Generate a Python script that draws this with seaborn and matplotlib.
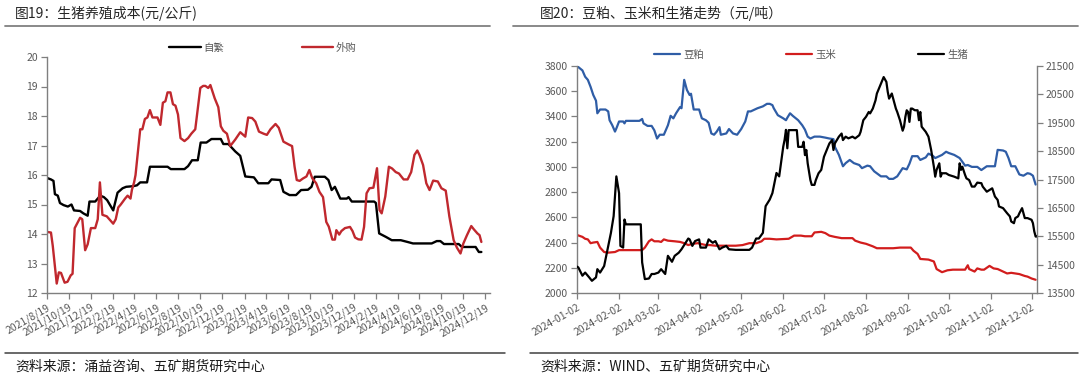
import matplotlib
matplotlib.use("Agg")
import matplotlib.pyplot as plt
from matplotlib.lines import Line2D
import seaborn as sns
import pandas as pd

# ---------------- Left chart: 生猪养殖成本 (元/公斤) ----------------
zifan_dates = ["2021-08-19", "2021-08-30", "2021-09-06", "2021-09-10", "2021-09-18", "2021-09-24",
               "2021-10-04", "2021-10-16", "2021-10-26", "2021-11-02", "2021-11-19", "2021-11-28",
               "2021-12-10", "2021-12-15", "2021-12-31", "2022-01-14", "2022-01-24", "2022-02-02",
               "2022-02-19", "2022-03-03", "2022-03-17", "2022-03-27", "2022-04-15", "2022-04-26",
               "2022-05-05", "2022-05-24", "2022-06-01", "2022-07-20", "2022-07-29", "2022-09-05",
               "2022-09-15", "2022-09-26", "2022-10-12", "2022-10-20", "2022-11-05", "2022-11-19",
               "2022-12-15", "2022-12-22", "2023-01-05", "2023-01-24", "2023-02-07", "2023-02-21",
               "2023-03-17", "2023-03-29", "2023-04-26", "2023-05-05", "2023-05-29", "2023-06-07",
               "2023-06-24", "2023-07-12", "2023-07-26", "2023-08-14", "2023-08-24", "2023-09-02",
               "2023-09-30", "2023-10-10", "2023-10-19", "2023-10-28", "2023-11-12", "2023-11-30",
               "2023-12-05", "2023-12-14", "2024-02-14", "2024-02-19", "2024-02-28", "2024-03-18",
               "2024-04-03", "2024-04-28", "2024-05-17", "2024-06-01", "2024-07-23", "2024-08-06",
               "2024-08-16", "2024-08-26", "2024-10-06", "2024-10-15", "2024-11-22", "2024-12-01",
               "2024-12-08"]
zifan_values = [15.9, 15.85, 15.8, 15.35, 15.3, 15.05, 14.98, 14.93, 15.0, 14.8, 14.78, 14.7,
                14.62, 15.1, 15.1, 15.3, 15.25, 15.15, 14.8, 15.4, 15.55, 15.6, 15.62, 15.65,
                15.75, 15.75, 16.28, 16.28, 16.2, 16.2, 16.3, 16.5, 16.5, 17.1, 17.1, 17.22,
                17.22, 17.05, 17.05, 16.8, 16.65, 15.95, 15.92, 15.72, 15.72, 15.85, 15.83, 15.43,
                15.32, 15.32, 15.49, 15.5, 15.6, 15.94, 15.94, 15.83, 15.49, 15.6, 15.2, 15.2,
                15.25, 15.1, 15.1, 15.05, 14.02, 13.9, 13.79, 13.79, 13.73, 13.68, 13.68, 13.76,
                13.76, 13.66, 13.66, 13.56, 13.56, 13.39, 13.39]

waigou_dates = ["2021-08-19", "2021-08-30", "2021-09-04", "2021-09-15", "2021-09-21", "2021-09-27",
                "2021-10-07", "2021-10-15", "2021-10-24", "2021-10-29", "2021-11-04", "2021-11-19",
                "2021-11-25", "2021-12-03", "2021-12-10", "2021-12-19", "2021-12-31", "2022-01-07",
                "2022-01-13", "2022-01-20", "2022-02-01", "2022-02-12", "2022-02-19", "2022-02-26",
                "2022-03-05", "2022-03-12", "2022-03-24", "2022-03-31", "2022-04-08", "2022-04-12",
                "2022-04-18", "2022-04-22", "2022-05-05", "2022-05-11", "2022-05-18", "2022-05-25",
                "2022-06-01", "2022-06-08", "2022-06-22", "2022-06-30", "2022-07-07", "2022-07-14",
                "2022-07-20", "2022-07-28", "2022-08-04", "2022-08-11", "2022-08-18", "2022-08-25",
                "2022-09-05", "2022-09-15", "2022-09-24", "2022-10-05", "2022-10-19", "2022-10-27",
                "2022-11-02", "2022-11-10", "2022-11-16", "2022-11-28", "2022-12-08", "2022-12-15",
                "2022-12-22", "2023-01-01", "2023-01-10", "2023-01-24", "2023-02-07", "2023-02-21",
                "2023-03-01", "2023-03-12", "2023-03-21", "2023-03-31", "2023-04-13", "2023-04-22",
                "2023-05-02", "2023-05-16", "2023-05-25", "2023-06-07", "2023-06-24", "2023-07-01",
                "2023-07-08", "2023-07-14", "2023-07-22", "2023-07-31", "2023-08-10", "2023-08-18",
                "2023-08-26", "2023-09-06", "2023-09-15", "2023-09-25", "2023-10-04", "2023-10-11",
                "2023-10-21", "2023-10-28", "2023-11-01", "2023-11-09", "2023-11-15", "2023-11-25",
                "2023-12-09", "2023-12-16", "2023-12-23", "2024-01-01", "2024-01-10", "2024-01-17",
                "2024-01-24", "2024-02-01", "2024-02-12", "2024-02-22", "2024-02-29", "2024-03-06",
                "2024-03-16", "2024-03-26", "2024-04-04", "2024-04-14", "2024-04-23", "2024-05-06",
                "2024-05-17", "2024-05-27", "2024-06-05", "2024-06-13", "2024-06-19", "2024-06-29",
                "2024-07-08", "2024-07-17", "2024-07-27", "2024-08-09", "2024-08-19", "2024-08-31",
                "2024-09-10", "2024-09-22", "2024-10-01", "2024-10-11", "2024-10-19", "2024-10-29",
                "2024-11-10", "2024-11-17", "2024-11-27", "2024-12-03", "2024-12-08"]
waigou_values = [14.07, 14.05, 13.6, 12.32, 12.7, 12.68, 12.35, 12.38, 12.6, 12.65, 14.2, 14.55,
                 14.5, 13.45, 13.65, 14.2, 14.2, 14.5, 15.75, 14.65, 14.6, 14.45, 14.35, 14.5,
                 14.9, 15.0, 15.2, 15.3, 15.2, 15.5, 15.75, 16.0, 17.55, 17.55, 17.9, 17.95,
                 18.2, 17.95, 17.95, 17.7, 18.45, 18.5, 18.8, 18.8, 18.4, 18.35, 18.05, 17.25,
                 17.15, 17.25, 17.4, 17.55, 18.95, 19.02, 19.02, 18.95, 19.05, 18.6, 18.3, 17.65,
                 17.5, 17.4, 16.98, 17.2, 17.45, 17.3, 17.95, 17.93, 17.81, 17.47, 17.4, 17.36,
                 17.55, 17.73, 17.6, 17.13, 17.02, 16.98, 16.28, 15.83, 15.8, 15.88, 15.95, 16.17,
                 15.89, 15.72, 15.43, 15.25, 14.41, 14.25, 13.81, 13.81, 14.13, 13.98, 14.1, 14.2,
                 14.24, 14.1, 13.88, 13.82, 13.81, 14.24, 15.38, 15.55, 15.57, 16.23, 14.81, 14.7,
                 15.27, 16.28, 16.22, 16.1, 16.05, 15.85, 15.85, 16.1, 16.68, 16.83, 16.68, 16.34,
                 15.72, 15.49, 15.81, 15.78, 15.55, 15.47, 14.6, 13.79, 13.54, 13.34, 13.68, 13.96,
                 14.27, 14.16, 14.02, 13.96, 13.73]

left_xticklabels = ["2021/8/19", "2021/10/19", "2021/12/19", "2022/2/19", "2022/4/19", "2022/6/19",
                    "2022/8/19", "2022/10/19", "2022/12/19", "2023/2/19", "2023/4/19", "2023/6/19",
                    "2023/8/19", "2023/10/19", "2023/12/19", "2024/2/19", "2024/4/19", "2024/6/19",
                    "2024/8/19", "2024/10/19", "2024/12/19"]
left_yticks = [12, 13, 14, 15, 16, 17, 18, 19, 20]

# ---------------- Right chart: 豆粕、玉米和生猪 (元/吨) ----------------
doupo_dates = ["01-02", "01-06", "01-08", "01-10", "01-12", "01-14", "01-16", "01-17", "01-19", "01-23",
               "01-25", "01-26", "01-28", "01-30", "01-31", "02-02", "02-05", "02-06", "02-07", "02-17",
               "02-19", "02-20", "02-23", "02-26", "02-28", "03-01", "03-03", "03-06", "03-09", "03-11",
               "03-13", "03-15", "03-18", "03-19", "03-21", "03-23", "03-25", "03-26", "03-28", "04-01",
               "04-03", "04-06", "04-08", "04-10", "04-12", "04-14", "04-16", "04-17", "04-21", "04-23",
               "04-26", "04-29", "05-02", "05-05", "05-07", "05-09", "05-11", "05-14", "05-18", "05-21",
               "05-23", "05-25", "05-26", "05-29", "06-02", "06-04", "06-05", "06-07", "06-09", "06-13",
               "06-16", "06-18", "06-20", "06-22", "06-25", "06-29", "07-03", "07-06", "07-09", "07-10",
               "07-13", "07-16", "07-18", "07-21", "07-24", "07-28", "07-30", "08-03", "08-05", "08-08",
               "08-09", "08-13", "08-17", "08-19", "08-22", "08-25", "08-29", "09-01", "09-03", "09-05",
               "09-09", "09-11", "09-15", "09-17", "09-20", "09-22", "09-25", "09-27", "09-30", "10-02",
               "10-06", "10-10", "10-14", "10-16", "10-19", "10-23", "10-26", "10-30", "11-02", "11-05",
               "11-07", "11-11", "11-13", "11-15", "11-17", "11-20", "11-23", "11-26", "11-29", "12-01",
               "12-03", "12-05"]
doupo_values = [3800, 3765, 3715, 3690, 3635, 3570, 3525, 3425, 3455, 3455,
                3440, 3370, 3330, 3280, 3305, 3360, 3360, 3345, 3365, 3365,
                3380, 3345, 3325, 3325, 3290, 3225, 3255, 3255, 3330, 3405,
                3385, 3425, 3475, 3465, 3690, 3610, 3570, 3580, 3455, 3455,
                3385, 3370, 3350, 3265, 3255, 3280, 3315, 3255, 3265, 3300,
                3265, 3255, 3300, 3360, 3440, 3440, 3450, 3465, 3480, 3500,
                3500, 3490, 3465, 3410, 3385, 3370, 3390, 3425, 3405, 3370,
                3330, 3295, 3240, 3225, 3240, 3240, 3232, 3225, 3220, 3160,
                3095, 3005, 3030, 3055, 3030, 3015, 2990, 3010, 3005, 2965,
                2957, 2925, 2925, 2905, 2905, 2925, 2990, 2980, 3025, 3085,
                3085, 3055, 3075, 3105, 3090, 3070, 3085, 3095, 3120, 3110,
                3095, 3070, 3010, 3015, 3000, 3000, 2975, 3005, 3005, 3005,
                3135, 3130, 3120, 3070, 3005, 3005, 2940, 2930, 2950, 2945,
                2930, 2860]

yumi_dates = ["01-02", "01-06", "01-08", "01-10", "01-12", "01-14", "01-17", "01-19", "01-22", "01-25",
              "01-30", "02-02", "02-19", "02-21", "02-24", "02-26", "02-28", "03-02", "03-04", "03-06",
              "03-09", "03-14", "03-18", "03-21", "03-24", "03-27", "03-31", "04-02", "04-06", "04-09",
              "04-13", "04-28", "05-03", "05-08", "05-13", "05-17", "05-19", "05-23", "05-28", "06-06",
              "06-10", "06-15", "06-18", "06-23", "06-25", "06-30", "07-03", "07-06", "07-10", "07-15",
              "07-23", "07-25", "07-29", "08-02", "08-07", "08-10", "08-22", "08-27", "09-04", "09-06",
              "09-09", "09-11", "09-17", "09-21", "09-23", "09-27", "10-01", "10-05", "10-14", "10-16",
              "10-17", "10-21", "10-23", "10-26", "10-28", "11-01", "11-04", "11-07", "11-11", "11-14",
              "11-17", "11-20", "11-23", "11-27", "11-29", "12-02", "12-05"]
yumi_values = [2460, 2445, 2430, 2425, 2395, 2400, 2405, 2360, 2325, 2320,
               2325, 2340, 2340, 2360, 2410, 2425, 2410, 2410, 2405, 2425,
               2415, 2410, 2405, 2395, 2380, 2390, 2395, 2390, 2380, 2380,
               2375, 2375, 2380, 2395, 2395, 2410, 2430, 2430, 2425, 2430,
               2455, 2455, 2450, 2450, 2480, 2485, 2475, 2455, 2445, 2435,
               2435, 2415, 2400, 2390, 2370, 2355, 2355, 2360, 2360, 2335,
               2310, 2270, 2265, 2250, 2190, 2165, 2180, 2185, 2185, 2220,
               2190, 2170, 2195, 2185, 2185, 2215, 2195, 2190, 2170, 2155,
               2160, 2155, 2150, 2135, 2130, 2115, 2105]

shengzhu_dates = ["01-02", "01-03", "01-06", "01-08", "01-11", "01-13", "01-16", "01-17", "01-19", "01-22",
                  "01-24", "01-27", "01-29", "01-31", "02-02", "02-03", "02-05", "02-06", "02-07", "02-18",
                  "02-19", "02-21", "02-24", "02-26", "02-28", "03-02", "03-04", "03-07", "03-09", "03-12",
                  "03-14", "03-17", "03-19", "03-22", "03-24", "03-25", "03-27", "03-29", "04-01", "04-02",
                  "04-06", "04-08", "04-11", "04-13", "04-16", "04-18", "04-21", "04-23", "04-28", "05-03",
                  "05-08", "05-10", "05-13", "05-15", "05-18", "05-20", "05-23", "05-25", "05-28", "05-30",
                  "06-02", "06-03", "06-04", "06-05", "06-06", "06-12", "06-13", "06-16", "06-17", "06-18",
                  "06-19", "06-20", "06-22", "06-23", "06-25", "06-26", "06-28", "06-30", "07-02", "07-04",
                  "07-06", "07-08", "07-09", "07-10", "07-13", "07-15", "07-16", "07-18", "07-20", "07-23",
                  "07-25", "07-28", "07-29", "07-31", "08-02", "08-04", "08-05", "08-07", "08-09", "08-10",
                  "08-12", "08-14", "08-15", "08-17", "08-18", "08-19", "08-21", "08-22", "08-24", "08-25",
                  "08-27", "08-29", "08-30", "08-31", "09-01", "09-02", "09-03", "09-04", "09-05", "09-07",
                  "09-09", "09-10", "09-11", "09-12", "09-15", "09-17", "09-19", "09-21", "09-22", "09-23",
                  "09-25", "09-26", "09-27", "09-30", "10-02", "10-06", "10-09", "10-10", "10-11", "10-12",
                  "10-14", "10-15", "10-17", "10-19", "10-21", "10-23", "10-26", "10-27", "10-30", "11-01",
                  "11-03", "11-05", "11-07", "11-08", "11-11", "11-13", "11-14", "11-16", "11-17", "11-19",
                  "11-20", "11-22", "11-23", "11-25", "11-26", "11-27", "11-29", "12-02", "12-03", "12-04",
                  "12-05", "12-06"]
shengzhu_values = [14430, 14400, 14110, 14220, 14050, 13930, 14050, 14340, 14220, 14450,
                   14920, 15620, 16210, 17610, 17020, 15160, 15100, 16090, 15920, 15920,
                   14580, 13990, 14010, 14170, 14170, 14220, 14340, 14170, 14810, 14600,
                   14810, 14920, 15040, 15270, 15420, 15390, 15160, 15330, 15390, 15100,
                   15100, 15390, 15270, 15330, 15040, 15100, 15160, 15040, 15020, 15020,
                   15020, 15100, 15420, 15420, 15620, 16560, 16790, 17020, 17730, 17610,
                   18660, 18900, 19250, 18600, 19240, 19240, 18650, 18650, 18830, 18360,
                   18540, 18070, 17480, 17310, 17310, 17480, 17720, 17840, 18300, 18540,
                   18770, 18890, 18540, 18770, 19010, 19120, 18890, 19010, 18950, 19010,
                   18950, 19060, 19180, 19590, 19710, 19880, 19830, 20000, 20290, 20530,
                   20760, 21000, 21110, 20940, 20590, 20350, 20530, 20350, 20000, 19880,
                   19590, 19220, 19360, 19710, 19940, 19880, 19530, 20000, 20000, 19940,
                   19940, 19590, 19880, 19360, 19180, 19010, 18540, 17950, 17600, 17840,
                   18070, 17600, 17720, 17720, 17660, 17600, 17540, 18070, 17840, 17950,
                   17660, 17540, 17480, 17250, 17250, 17390, 17370, 17250, 17070, 17130,
                   17190, 16900, 16780, 16550, 16490, 16370, 16310, 16200, 16020, 15960,
                   16140, 16200, 16310, 16490, 16310, 16140, 16140, 16080, 15960, 15670,
                   15490, 15490]

right_xticklabels = ["2024-01-02", "2024-02-02", "2024-03-02", "2024-04-02", "2024-05-02", "2024-06-02",
                     "2024-07-02", "2024-08-02", "2024-09-02", "2024-10-02", "2024-11-02", "2024-12-02"]
right_left_yticks = [2000, 2200, 2400, 2600, 2800, 3000, 3200, 3400, 3600, 3800]
right_right_yticks = [13500, 14500, 15500, 16500, 17500, 18500, 19500, 20500, 21500]

# ---------------- Styling ----------------
sns.set_theme(style="white")
plt.rcParams['font.family'] = ['Noto Sans CJK SC', 'DejaVu Sans']
plt.rcParams['axes.unicode_minus'] = False

W, H = 1080, 377
fig = plt.figure(figsize=(W / 100, H / 100), dpi=100)


def box(l, t, r, b):
    return [l / W, 1 - b / H, (r - l) / W, (b - t) / H]


LBL = '#595959'
AXC = '#7f7f7f'
TICK_FS = 7.5


def style_axis(ax):
    for s in ax.spines.values():
        s.set_color(AXC)
        s.set_linewidth(1.0)
    ax.tick_params(axis='both', which='both', direction='out', length=4, width=0.9,
                   color=AXC, labelcolor=LBL, labelsize=TICK_FS, pad=2.5)


# ---------- Left chart ----------
ax1 = fig.add_axes(box(47, 57, 490, 293))
df_zf = pd.DataFrame({'date': pd.to_datetime(zifan_dates), 'value': zifan_values})
df_wg = pd.DataFrame({'date': pd.to_datetime(waigou_dates), 'value': waigou_values})
sns.lineplot(data=df_zf, x='date', y='value', ax=ax1, color='black', linewidth=1.7, label='自繁')
sns.lineplot(data=df_wg, x='date', y='value', ax=ax1, color='#c0282e', linewidth=1.7, label='外购')
ax1.set_xlim(pd.Timestamp('2021-08-19'), pd.Timestamp('2025-01-01'))
ax1.set_ylim(12, 20)
ax1.set_yticks(left_yticks)
ax1.set_xticks(pd.to_datetime(left_xticklabels, format='%Y/%m/%d'))
ax1.set_xticklabels(left_xticklabels, rotation=30, ha='right', rotation_mode='anchor')
ax1.set_xlabel('')
ax1.set_ylabel('')
ax1.spines['top'].set_visible(False)
ax1.spines['right'].set_visible(False)
style_axis(ax1)
ax1.tick_params(bottom=True, left=True)
ax1.legend(loc='center', bbox_to_anchor=(263 / W, 1 - 48 / H), bbox_transform=fig.transFigure,
           ncol=2, frameon=False, fontsize=7.5, handlelength=3.0, handletextpad=0.3,
           columnspacing=7.4, labelcolor=LBL)

# ---------- Right chart ----------
ax2 = fig.add_axes(box(577, 66, 1037, 293))
ax2r = ax2.twinx()
df_dp = pd.DataFrame({'date': pd.to_datetime(['2024-' + d for d in doupo_dates]), 'value': doupo_values})
df_ym = pd.DataFrame({'date': pd.to_datetime(['2024-' + d for d in yumi_dates]), 'value': yumi_values})
df_sz = pd.DataFrame({'date': pd.to_datetime(['2024-' + d for d in shengzhu_dates]), 'value': shengzhu_values})
sns.lineplot(data=df_dp, x='date', y='value', ax=ax2, color='#2f5da6', linewidth=1.6, legend=False)
sns.lineplot(data=df_ym, x='date', y='value', ax=ax2, color='#d21d1d', linewidth=1.6, legend=False)
sns.lineplot(data=df_sz, x='date', y='value', ax=ax2r, color='black', linewidth=1.6, legend=False)
x0, x1 = pd.Timestamp('2024-01-02'), pd.Timestamp('2024-12-06')
ax2.set_xlim(x0, x1)
ax2r.set_xlim(x0, x1)
ax2.set_ylim(2000, 3800)
ax2r.set_ylim(13500, 21500)
ax2.set_yticks(right_left_yticks)
ax2r.set_yticks(right_right_yticks)
ax2.set_xticks(pd.to_datetime(right_xticklabels))
ax2.set_xticklabels(right_xticklabels, rotation=30, ha='right', rotation_mode='anchor')
for a in (ax2, ax2r):
    a.set_xlabel('')
    a.set_ylabel('')
ax2.spines['top'].set_visible(False)
ax2.spines['right'].set_visible(False)
ax2r.spines['top'].set_visible(False)
ax2r.spines['left'].set_visible(False)
ax2r.spines['bottom'].set_visible(False)
style_axis(ax2)
style_axis(ax2r)
ax2.tick_params(bottom=True, left=True)
ax2r.tick_params(right=True, left=False, bottom=False)
handles = [Line2D([], [], color='#2f5da6', lw=1.6), Line2D([], [], color='#d21d1d', lw=1.6),
           Line2D([], [], color='black', lw=1.6)]
ax2.legend(handles, ['豆粕', '玉米', '生猪'], loc='center', bbox_to_anchor=(811 / W, 1 - 55 / H),
           bbox_transform=fig.transFigure, ncol=3, frameon=False, fontsize=7.5, handlelength=2.5,
           handletextpad=0.3, columnspacing=7.9, labelcolor=LBL)

# ---------- Titles, rules, sources ----------
fig.text(15 / W, 1 - 13 / H, '图19：生猪养殖成本(元/公斤)', fontsize=10, color='#262626', ha='left', va='center')
fig.text(540 / W, 1 - 13 / H, '图20：豆粕、玉米和生猪走势（元/吨）', fontsize=10, color='#262626', ha='left', va='center')
for (xa, xb) in [(5, 490), (513, 1078)]:
    fig.add_artist(Line2D([xa / W, xb / W], [1 - 25.5 / H] * 2, color='#808080', lw=1.3))
for (xa, xb) in [(5, 505), (530, 1078)]:
    fig.add_artist(Line2D([xa / W, xb / W], [1 - 352.5 / H] * 2, color='#404040', lw=1.1))
fig.text(15 / W, 1 - 367 / H, '资料来源：涌益咨询、五矿期货研究中心', fontsize=10, color='#1a1a1a', ha='left', va='center')
fig.text(540 / W, 1 - 367 / H, '资料来源：WIND、五矿期货研究中心', fontsize=10, color='#1a1a1a', ha='left', va='center')

fig.savefig('out.png', dpi=100)
